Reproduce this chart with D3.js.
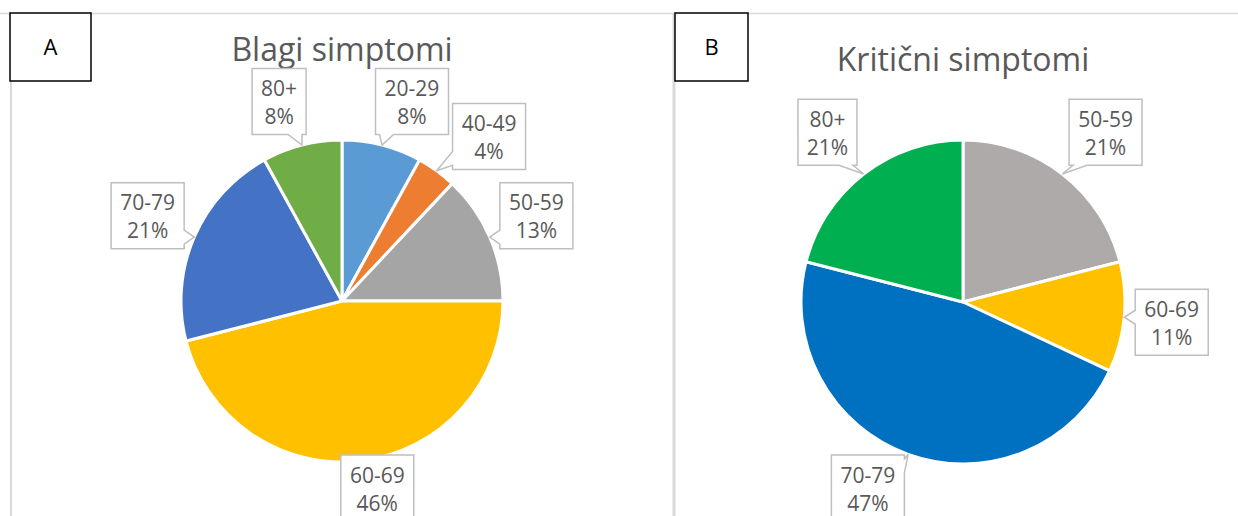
<!DOCTYPE html>
<html>
<head>
<meta charset="utf-8">
<script src="https://cdn.jsdelivr.net/npm/d3@7"></script>
<style>
    body { margin: 0; background: #fff; }
    svg { display: block; font-family: "Open Sans", sans-serif; }
</style>
</head>
<body>
<div id="chart"></div>
<script>
// A - Blagi simptomi (share of cases per age group, %)
const mildAges = ["20-29", "40-49", "50-59", "60-69", "70-79", "80+"];
const mildShares = [8, 4, 13, 46, 21, 8];
const mildColors = ["#5B9BD5", "#ED7D31", "#A5A5A5", "#FFC000", "#4472C4", "#70AD47"];

// B - Kritični simptomi
const criticalAges = ["50-59", "60-69", "70-79", "80+"];
const criticalShares = [21, 11, 47, 21];
const criticalColors = ["#AEAAAA", "#FFC000", "#0070C0", "#00B050"];

const width = 1238;
const height = 516;

const svg = d3
    .select("#chart")
    .append("svg")
    .attr("width", width)
    .attr("height", height);

// chart area borders
svg.append("line")
    .attr("x1", 0).attr("x2", width)
    .attr("y1", 13.5).attr("y2", 13.5)
    .attr("stroke", "#D9D9D9").attr("stroke-width", 1.5);
svg.append("line")
    .attr("x1", 11).attr("x2", 11)
    .attr("y1", 13).attr("y2", height)
    .attr("stroke", "#D9D9D9").attr("stroke-width", 2);
svg.append("line")
    .attr("x1", 674).attr("x2", 674)
    .attr("y1", 13).attr("y2", height)
    .attr("stroke", "#D9D9D9").attr("stroke-width", 3);

const panels = [
    {
        tag: "A", title: "Blagi simptomi",
        ages: mildAges, shares: mildShares, colors: mildColors,
        cx: 342, cy: 301, r: 161, titleY: 61,
        tagX: 10, tagW: 81
    },
    {
        tag: "B", title: "Kritični simptomi",
        ages: criticalAges, shares: criticalShares, colors: criticalColors,
        cx: 963, cy: 302, r: 162, titleY: 71,
        tagX: 675, tagW: 73
    }
];

panels.forEach(drawPanel);

function drawPanel(p) {
    const g = svg.append("g");

    // title
    g.append("text")
        .attr("x", p.cx)
        .attr("y", p.titleY)
        .attr("text-anchor", "middle")
        .style("font-size", "32px")
        .style("fill", "#595959")
        .text(p.title);

    const data = p.ages.map((age, i) => ({
        age: age,
        value: p.shares[i],
        color: p.colors[i]
    }));
    const total = d3.sum(data, (d) => d.value);

    const pie = d3.pie().sort(null).value((d) => d.value);
    const arc = d3.arc().innerRadius(0).outerRadius(p.r);
    const arcs = pie(data);

    const plot = g.append("g")
        .attr("transform", `translate(${p.cx}, ${p.cy})`);

    plot.selectAll("path")
        .data(arcs)
        .join("path")
        .attr("d", arc)
        .attr("fill", (d) => d.data.color)
        .attr("stroke", "#fff")
        .attr("stroke-width", 3)
        .attr("stroke-linejoin", "round");

    // callout labels
    const pct = d3.format(".0%");
    const clamp = (v) => Math.max(-1, Math.min(1, v));
    const placed = [];

    // box centre for a given placement angle
    const place = (ang, bw, bh) => {
        const ux = Math.sin(ang);
        const uy = -Math.cos(ang);
        const ex = p.cx + ux * p.r;
        const ey = p.cy + uy * p.r;
        const bx = ex + ux * 11 + (bw / 2) * clamp(3 * ux);
        let by = ey + uy * 11 + (bh / 2) * clamp(1.3 * uy);
        by = Math.min(by, height + 5 - bh / 2);
        return [bx - bw / 2, by - bh / 2, bx + bw / 2, by + bh / 2];
    };
    const hits = (b) => placed.some((q) =>
        b[0] < q[2] + 2 && b[2] > q[0] - 2 && b[1] < q[3] + 2 && b[3] > q[1] - 2);

    arcs.forEach((a) => {
        const mid = (a.startAngle + a.endAngle) / 2;
        const tip = [p.cx + Math.sin(mid) * p.r, p.cy - Math.cos(mid) * p.r];

        const label = g.append("g");
        const box = label.append("path")
            .attr("fill", "#fff")
            .attr("stroke", "#BFBFBF")
            .attr("stroke-width", 1.5);
        const lines = [a.data.age, pct(a.data.value / total)];
        const texts = label.selectAll("text")
            .data(lines)
            .join("text")
            .attr("text-anchor", "middle")
            .style("font-size", "21px")
            .style("fill", "#595959")
            .text((d) => d);

        const textW = d3.max(texts.nodes(), (n) => n.getComputedTextLength());
        const bw = Math.round(textW + 18);
        const bh = 66;

        // nudge clockwise until it clears the labels already placed
        let ang = mid;
        let b = place(ang, bw, bh);
        for (let step = 0; step < 30 && hits(b); step++) {
            ang += Math.PI / 180;
            b = place(ang, bw, bh);
        }
        placed.push(b);

        const [x0, y0, x1, y1] = b;
        const bx = (x0 + x1) / 2;
        const by = (y0 + y1) / 2;

        texts.attr("x", bx).attr("y", (d, i) => (i === 0 ? by - 5.5 : by + 22.5));

        box.attr("d", calloutPath(x0, y0, x1, y1, tip));
    });

    // panel tag box
    g.append("rect")
        .attr("x", p.tagX)
        .attr("y", 13)
        .attr("width", p.tagW)
        .attr("height", 68)
        .attr("fill", "#fff")
        .attr("stroke", "#000")
        .attr("stroke-width", 1.5);
    g.append("text")
        .attr("x", p.tagX + p.tagW / 2)
        .attr("y", 13 + 34 + 8)
        .attr("text-anchor", "middle")
        .style("font-size", "22px")
        .style("fill", "#000")
        .text(p.tag);
}

// rectangle with a small wedge pointing at the slice
function calloutPath(x0, y0, x1, y1, tip) {
    const hw = 7;
    const out = {
        top: y0 - tip[1],
        right: tip[0] - x1,
        bottom: tip[1] - y1,
        left: x0 - tip[0]
    };
    let side = null;
    let best = 3;
    Object.entries(out).forEach(([k, v]) => {
        if (v > best) { best = v; side = k; }
    });
    const lim = (v, a, b) => Math.max(a + hw + 4, Math.min(b - hw - 4, v));
    const pts = [[x0, y0]];
    if (side === "top") {
        const b = lim(tip[0], x0, x1);
        pts.push([b - hw, y0], tip, [b + hw, y0]);
    }
    pts.push([x1, y0]);
    if (side === "right") {
        const b = lim(tip[1], y0, y1);
        pts.push([x1, b - hw], tip, [x1, b + hw]);
    }
    pts.push([x1, y1]);
    if (side === "bottom") {
        const b = lim(tip[0], x0, x1);
        pts.push([b + hw, y1], tip, [b - hw, y1]);
    }
    pts.push([x0, y1]);
    if (side === "left") {
        const b = lim(tip[1], y0, y1);
        pts.push([x0, b + hw], tip, [x0, b - hw]);
    }
    return d3.line()(pts) + "Z";
}
</script>
</body>
</html>
